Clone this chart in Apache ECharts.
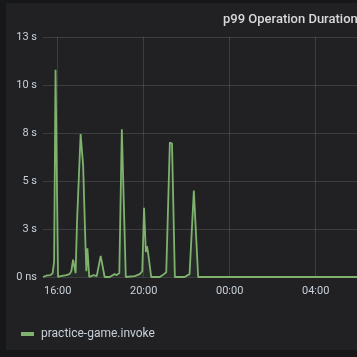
<!DOCTYPE html>
<html>
<head>
<meta charset="utf-8">
<script src="https://cdn.jsdelivr.net/npm/echarts@6/dist/echarts.min.js"></script>
<style>
  html, body { margin: 0; padding: 0; width: 357px; height: 357px; overflow: hidden; background: #161719; }
  #panel { position: absolute; left: 6px; top: 3px; width: 576px; height: 347px; }
</style>
</head>
<body>
<div id="panel"></div>
<script>
// Time stamps (hh:mm; hours >= 24 are the following day)
const times = ['15:19','15:31','15:40','15:46','15:50','15:54','16:01','16:08','16:24','16:33','16:38','16:43','16:47','16:50','16:54','16:59','17:04','17:11','17:18','17:20','17:23','17:28','17:40','17:49','18:00','18:11','18:25','18:39','18:45','18:48','18:52','18:59','19:10','19:35','19:49','19:56','20:01','20:06','20:09','20:12','20:21','20:45','20:53','21:03','21:13','21:19','21:27','21:54','22:08','22:20','22:32','28:10','28:14','28:18','39:19'];
// p99 duration in seconds
const durations = [0,0.08,0.1,0.2,0.8,10.8,0,0.05,0.1,0.15,0.3,0.9,1.0,0.2,2.9,2.9,7.45,5.8,1.4,0.3,1.5,0,0.1,0.05,1.1,0,0,0.15,0.1,0,0.2,7.7,0,0.05,0.15,0.3,3.6,1.3,1.6,1.3,0,0,0.1,0.25,7.0,6.95,0,0,0.15,4.5,0,0,0.03,0,0];
const xTicks = ['16:00','20:00','24:00','28:00','32:00','36:00'];
const yTicks = [0, 2.5, 5, 7.5, 10, 12.5];
const seriesName = 'practice-game.invoke';
const title = 'p99 Operation Duration';

function toMin(s) { const p = s.split(':'); return (+p[0]) * 60 + (+p[1]); }
function fmtMin(v) {
  const h = Math.floor(v / 60) % 24, m = Math.round(v % 60);
  return String(h).padStart(2, '0') + ':' + String(m).padStart(2, '0');
}
const data = times.map((t, i) => [toMin(t), durations[i]]);
const xMin = toMin(times[0]), xMax = toMin(times[times.length - 1]);

const chart = echarts.init(document.getElementById('panel'));
chart.setOption({
  backgroundColor: '#212124',
  animation: false,
  textStyle: { fontFamily: 'Roboto' },
  title: {
    text: title, left: 212, top: 5,
    textStyle: { color: '#d8d9da', fontSize: 13, fontWeight: 500, fontFamily: 'Roboto' }
  },
  grid: { left: 37, right: 23, top: 34, bottom: 73, containLabel: false },
  xAxis: {
    type: 'value', min: xMin, max: xMax,
    axisLine: { show: false },
    axisTick: { show: false, customValues: xTicks.map(toMin) },
    axisLabel: { customValues: xTicks.map(toMin), formatter: fmtMin, color: '#c7d0d9', fontSize: 11, margin: 9 },
    splitLine: { show: true, lineStyle: { color: 'rgba(255,255,255,0.13)', width: 1 } }
  },
  yAxis: {
    type: 'value', min: yTicks[0], max: yTicks[yTicks.length - 1], interval: 2.5,
    axisLine: { show: false },
    axisTick: { show: false },
    axisLabel: {
      formatter: v => v === 0 ? '0 ns' : Math.round(v) + ' s',
      color: '#c7d0d9', fontSize: 11, margin: 6
    },
    splitLine: { show: true, lineStyle: { color: 'rgba(255,255,255,0.13)', width: 1 } }
  },
  legend: {
    left: 10, top: 320, icon: 'rect', itemWidth: 13, itemHeight: 4,
    textStyle: { color: '#c7d0d9', fontSize: 12, padding: [0, 0, 0, 2] },
    data: [seriesName]
  },
  series: [{
    name: seriesName, type: 'line', data: data, showSymbol: false, smooth: false,
    color: '#7eb26d',
    lineStyle: { color: '#7eb26d', width: 1.8 },
    areaStyle: { color: 'rgba(126,178,109,0.1)' }
  }]
});
</script>
</body>
</html>
